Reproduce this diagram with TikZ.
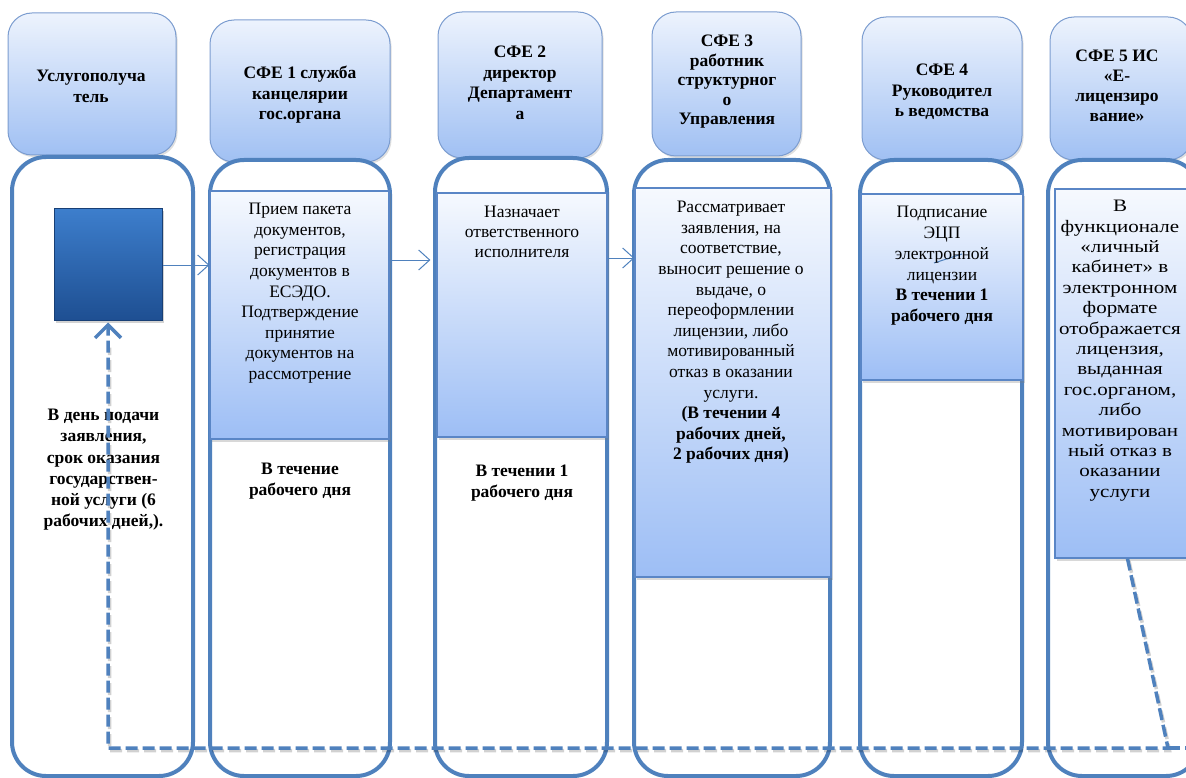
\documentclass[tikz,border=0pt]{standalone}
\usepackage{fontspec}
\setmainfont{Liberation Serif}
\newfontfamily\tnr{Liberation Serif}
\newfontfamily\tnrwide{Liberation Serif}[FakeStretch=1.2]
\usetikzlibrary{arrows.meta,shadows}
\definecolor{lanec}{HTML}{4F81BD}
\definecolor{hdrtop}{HTML}{EDF3FD}
\definecolor{hdrbot}{HTML}{A0C0F3}
\definecolor{hdrdraw}{HTML}{7C9DD0}
\definecolor{boxtop}{HTML}{F6F9FE}
\definecolor{boxbot}{HTML}{9DBEF5}
\definecolor{boxdraw}{HTML}{5A86C6}
\definecolor{sqtop}{HTML}{3D7ECC}
\definecolor{sqbot}{HTML}{1E4F92}
\newcommand{\bfont}{\tnr\fontsize{17.5}{20.6}\selectfont}
\tikzset{
  hdr/.style={draw=hdrdraw, line width=1pt, rounded corners=24pt, top color=hdrtop, bottom color=hdrbot,
    inner sep=0pt, drop shadow={opacity=0.25, shadow xshift=1.5pt, shadow yshift=-2pt}},
  lane/.style={draw=lanec, line width=4pt, rounded corners=34pt, fill=white, inner sep=0pt},
  actbox/.style={draw=boxdraw, line width=1.2pt, top color=boxtop, bottom color=boxbot, inner sep=0pt,
    drop shadow={opacity=0.3, shadow xshift=1.5pt, shadow yshift=-2.5pt}},
  sqbox/.style={draw=sqbot!80!black, line width=1pt, top color=sqtop, bottom color=sqbot, inner sep=0pt,
    drop shadow={opacity=0.35, shadow xshift=2pt, shadow yshift=-2.5pt}},
  txt/.style={align=center, inner sep=0pt, anchor=north, font=\bfont},
  htxt/.style={align=center, inner sep=0pt, anchor=north, font=\bfont\bfseries},
  flow/.style={draw=lanec, line width=1pt, -{Straight Barb[length=11pt,width=20pt]}},
  ret/.style={draw=lanec, line width=3.5pt, dash pattern=on 12pt off 5pt},
  retshadow/.style={draw=black, opacity=0.18, line width=3.5pt, dash pattern=on 12pt off 5pt}
}
\begin{document}
\begin{tikzpicture}[x=1pt,y=-1pt]
\useasboundingbox (0,0) rectangle (1186,778);
% headers
\node[hdr, minimum width=168pt, minimum height=142pt] (h1) at (92,84) {};
\node[hdr, minimum width=180pt, minimum height=142pt] (h2) at (300,91) {};
\node[hdr, minimum width=164pt, minimum height=146pt] (h3) at (520,85) {};
\node[hdr, minimum width=149pt, minimum height=144pt] (h4) at (726.5,84) {};
\node[hdr, minimum width=160pt, minimum height=143pt] (h5) at (942,88.5) {};
\node[hdr, minimum width=142pt, minimum height=143pt] (h6) at (1121,88.5) {};
% lanes
\node[lane, minimum width=181pt, minimum height=619pt] (l1) at (102.5,466.5) {};
\node[lane, minimum width=180pt, minimum height=616pt] (l2) at (300,468) {};
\node[lane, minimum width=172pt, minimum height=618pt] (l3) at (521,467) {};
\node[lane, minimum width=196pt, minimum height=616pt] (l4) at (732,468) {};
\node[lane, minimum width=162pt, minimum height=616pt] (l5) at (941,468) {};
\node[lane, minimum width=152pt, minimum height=616pt] (l6) at (1124,468) {};
% activity boxes
\node[actbox, minimum width=179pt, minimum height=248pt] (b2) at (299.5,315) {};
\node[actbox, minimum width=170pt, minimum height=244pt] (b3) at (522,315) {};
\node[actbox, minimum width=196pt, minimum height=389pt] (b4) at (733,382.5) {};
\node[actbox, minimum width=162pt, minimum height=186pt] (b5) at (942,287) {};
\node[actbox, minimum width=135pt, minimum height=369pt] (b6) at (1122.5,373.5) {};
\node[sqbox, minimum width=108pt, minimum height=111pt] (sq) at (108,264.5) {};
% flow arrows
\draw[flow] (sq.east |- 0,265) -- (b2.west |- 0,265);
\draw[flow, shorten >=6pt] (b2.east |- 0,260) -- (b3.west |- 0,260);
\draw[flow] (b3.east |- 0,258) -- (b4.west |- 0,258);
\coordinate (s1) at (934,263);
\coordinate (s2) at (962,254);
\draw[draw=lanec, line width=1pt] (s1) -- (s2);
% header texts
\node[htxt] (t1) at (91,70) {Услугополуча\\тель};
\node[htxt] (t2) at (300,66) {СФЕ 1 служба\\канцелярии\\гос.органа};
\node[htxt] (t3) at (520,46) {СФЕ 2\\директор\\Департамент\\а};
\node[htxt, font=\tnr\fontsize{17.5}{19.5}\selectfont\bfseries] (t4) at (727,35) {СФЕ 3\\работник\\структурног\\о\\Управления};
\node[htxt] (t5) at (942,64) {СФЕ 4\\Руководител\\ь ведомства};
\node[htxt, font=\tnr\fontsize{17.5}{20}\selectfont\bfseries] (t6) at (1117,50) {СФЕ 5 ИС\\«Е-\\лицензиро\\вание»};
% body texts
\node[txt, font=\tnr\fontsize{17.5}{21.2}\selectfont\bfseries] (x1) at (103.5,409)
  {В день подачи\\заявления,\\срок оказания\\государствен-\\ной услуги (6\\рабочих дней,).};
\node[txt] (x2) at (300,203) {Прием пакета\\документов,\\регистрация\\документов в\\ЕСЭДО.\\Подтверждение\\принятие\\документов на\\рассмотрение};
\node[txt, font=\bfont\bfseries] (y2) at (300,463) {В течение\\рабочего дня};
\node[txt, font=\tnr\fontsize{17.5}{20}\selectfont] (x3) at (522,206) {Назначает\\ответственного\\исполнителя};
\node[txt, font=\bfont\bfseries] (y3) at (522,465) {В течении 1\\рабочего дня};
\node[txt] (x4) at (731,201) {Рассматривает\\заявления, на\\соответствие,\\выносит решение о\\выдаче, о\\переоформлении\\лицензии, либо\\мотивированный\\отказ в оказании\\услуги.\\\textbf{(В течении 4}\\\textbf{рабочих дней,}\\\textbf{2 рабочих дня)}};
\node[txt, font=\tnr\fontsize{17.5}{20.8}\selectfont] (x5) at (942,206) {Подписание\\ЭЦП\\электронной\\лицензии\\\textbf{В течении 1}\\\textbf{рабочего дня}};
\node[txt, font=\tnrwide\fontsize{17.5}{20.4}\selectfont] (x6) at (1120,200) {В\\функционале\\«личный\\кабинет» в\\электронном\\формате\\отображается\\лицензия,\\выданная\\гос.органом,\\либо\\мотивирован\\ный отказ в\\оказании\\услуги};
% return path
\coordinate (c1) at (1168,748);
\coordinate (c2) at (108,748);
\coordinate (c3) at (1186,748);
\draw[retshadow, transform canvas={xshift=1.5pt,yshift=-2.5pt}] ([xshift=5pt]b6.south) -- (c1) -- (c2) -- (sq.south |- 0,345);
\draw[ret, -{Straight Barb[length=13pt,width=26pt]}] ([xshift=5pt]b6.south) -- (c1) -- (c2) -- ([yshift=-2pt]sq.south);
\draw[ret] (c1) -- (c3);
\end{tikzpicture}
\end{document}
